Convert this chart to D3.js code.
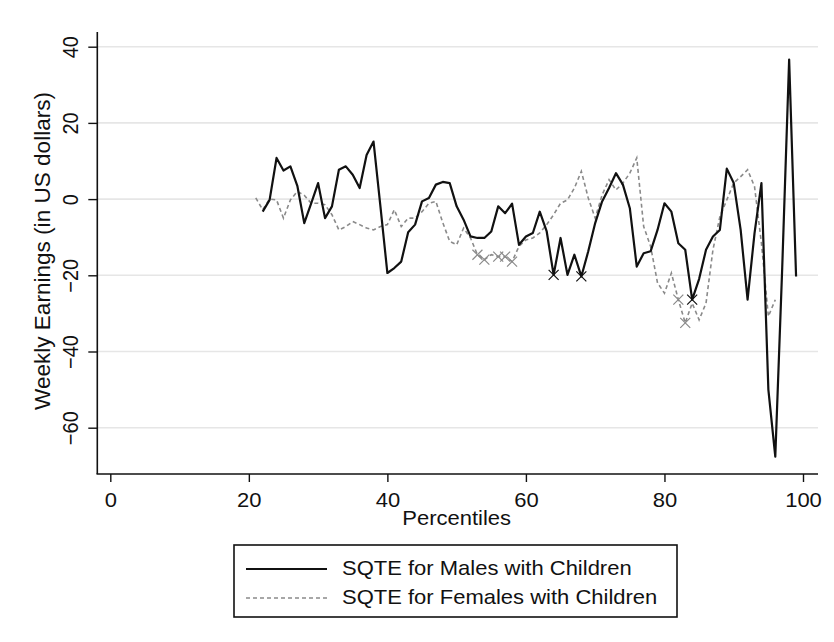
<!DOCTYPE html>
<html>
<head>
<meta charset="utf-8">
<script src="https://cdn.jsdelivr.net/npm/d3@7"></script>
<style>
  html, body { margin: 0; padding: 0; background: #fff; }
  svg { display: block; }
  text { font-family: "Liberation Sans", Arial, sans-serif; fill: #111; }
</style>
</head>
<body>
<svg id="chart" width="834" height="642"></svg>
<script>
// ---------------- data ----------------
const malePct = [22,23,24,25,26,27,28,29,30,31,32,33,34,35,36,37,38,39,40,41,42,43,44,45,46,47,48,49,50,51,52,53,54,55,56,57,58,59,60,61,62,63,64,65,66,67,68,69,70,71,72,73,74,75,76,77,78,79,80,81,82,83,84,85,86,87,88,89,90,91,92,93,94,95,96,97,98,99];
const maleVal = [-3.3,-0.2,10.8,7.5,8.6,3.5,-6.3,-1.1,4.2,-5.0,-1.9,7.7,8.6,6.4,2.9,11.6,15.1,-2.0,-19.4,-18.1,-16.4,-8.7,-6.7,-0.6,0.3,3.8,4.5,4.2,-1.9,-5.4,-9.8,-10.2,-10.2,-8.5,-1.9,-3.7,-1.2,-12.0,-9.8,-8.9,-3.3,-8.5,-19.9,-10.2,-19.9,-14.6,-20.3,-13.7,-6.3,-0.6,2.9,6.8,3.8,-2.4,-17.7,-14.2,-13.7,-8.1,-1.1,-3.3,-11.6,-13.3,-26.4,-21.0,-13.3,-9.8,-8.1,8.0,4.2,-8.1,-26.4,-9.0,4.2,-50.0,-67.6,-18.0,36.6,-20.3];
const femalePct = [21,22,23,24,25,26,27,28,29,30,31,32,33,34,35,36,37,38,39,40,41,42,43,44,45,46,47,48,49,50,51,52,53,54,55,56,57,58,59,60,61,62,63,64,65,66,67,68,69,70,71,72,73,74,75,76,77,78,79,80,81,82,83,84,85,86,87,88,89,90,91,92,93,94,95,96];
const femaleVal = [0.3,-2.8,0.0,-0.2,-5.0,-0.2,2.0,1.0,-1.1,-1.1,-1.5,-4.1,-8.1,-7.2,-5.9,-6.7,-7.6,-8.1,-7.2,-6.7,-2.8,-7.2,-5.0,-5.0,-3.3,-1.1,-0.6,-6.2,-11.1,-12.0,-7.6,-10.2,-14.6,-15.9,-14.6,-15.1,-15.1,-16.4,-12.4,-10.7,-10.2,-8.9,-6.7,-4.1,-1.1,-0.2,2.9,7.3,0.3,-5.0,1.1,5.1,2.4,4.2,6.8,10.8,-7.2,-12.4,-22.0,-24.7,-19.4,-26.4,-32.5,-27.3,-31.7,-27.3,-13.3,-4.6,-0.2,4.2,5.9,7.7,3.3,-11.6,-30.8,-26.4];
// percentiles flagged with an "x" marker
const maleMarked = [64,68,84];
const femaleMarked = [53,54,56,57,58,82,83];

const xTicks = [0,20,40,60,80,100];
const yTicks = [40,20,0,-20,-40,-60];
const seriesNames = ["SQTE for Males with Children","SQTE for Females with Children"];
const xTitle = "Percentiles";
const yTitle = "Weekly Earnings (in US dollars)";

// ---------------- layout ----------------
const svg = d3.select("#chart");
const plotL = 97.3, plotR = 818, plotT = 32, plotB = 474;
const x = d3.scaleLinear().domain([0,100]).range([110.3, 803]);
const y = d3.scaleLinear().domain([-60,40]).range([427.7, 46.7]);
const SX = 1.1; // horizontal text stretch
const fs = 20;

// gridlines
svg.append("g").selectAll("line").data(yTicks).join("line")
  .attr("x1", plotL).attr("x2", plotR)
  .attr("y1", d => y(d)).attr("y2", d => y(d))
  .attr("stroke", "#e6e6e6").attr("stroke-width", 1.6);

// lines
const male = malePct.map((p,i) => ({p, v: maleVal[i]}));
const female = femalePct.map((p,i) => ({p, v: femaleVal[i]}));
const line = d3.line().x(d => x(d.p)).y(d => y(d.v));

svg.append("path").datum(female).attr("d", line)
  .attr("fill","none").attr("stroke","#8a8a8a").attr("stroke-width",1.6)
  .attr("stroke-dasharray","4,3");
svg.append("path").datum(male).attr("d", line)
  .attr("fill","none").attr("stroke","#111").attr("stroke-width",2.2)
  .attr("stroke-linejoin","round");

// markers
function xMark(g, pts, color) {
  const s = 5;
  g.selectAll("path").data(pts).join("path")
    .attr("d", d => `M${x(d.p)-s},${y(d.v)-s}L${x(d.p)+s},${y(d.v)+s}M${x(d.p)-s},${y(d.v)+s}L${x(d.p)+s},${y(d.v)-s}`)
    .attr("stroke", color).attr("stroke-width", 1.2).attr("fill","none");
}
xMark(svg.append("g"), female.filter(d => femaleMarked.includes(d.p)), "#8a8a8a");
xMark(svg.append("g"), male.filter(d => maleMarked.includes(d.p)), "#111");

// axes lines
svg.append("line").attr("x1", plotL).attr("x2", plotL).attr("y1", plotT).attr("y2", plotB)
  .attr("stroke","#111").attr("stroke-width",1.6);
svg.append("line").attr("x1", plotL-0.8).attr("x2", plotR).attr("y1", plotB).attr("y2", plotB)
  .attr("stroke","#111").attr("stroke-width",1.6);

// x axis
const gx = svg.append("g").attr("transform", `translate(0,${plotB})`)
  .call(d3.axisBottom(x).tickValues(xTicks).tickSize(8).tickSizeOuter(0).tickFormat(d3.format("d")));
gx.select(".domain").remove();
gx.selectAll(".tick line").attr("stroke","#111").attr("stroke-width",1.4);
gx.selectAll(".tick text")
  .attr("y", 0).attr("dy", 0)
  .attr("transform", `translate(0,33) scale(${SX},1)`)
  .attr("font-size", fs).attr("fill","#111")
  .style("font-family", '"Liberation Sans", Arial, sans-serif');

// y axis
const gy = svg.append("g").attr("transform", `translate(${plotL},0)`)
  .call(d3.axisLeft(y).tickValues(yTicks).tickSize(9).tickSizeOuter(0).tickFormat(d3.format("d")));
gy.select(".domain").remove();
gy.selectAll(".tick line").attr("stroke","#111").attr("stroke-width",1.4);
gy.selectAll(".tick text")
  .attr("x", 0).attr("y", 0).attr("dy", 0)
  .attr("text-anchor","middle")
  .attr("transform", `translate(-19.3,0) scale(${SX},1) rotate(-90)`)
  .attr("font-size", fs).attr("fill","#111")
  .style("font-family", '"Liberation Sans", Arial, sans-serif');

// titles
svg.append("text").text(xTitle)
  .attr("text-anchor","middle").attr("font-size", fs)
  .attr("transform", `translate(${(x(0)+x(100))/2},525) scale(${SX},1)`);
svg.append("text").text(yTitle)
  .attr("text-anchor","middle").attr("font-size", fs)
  .attr("textLength", 318).attr("lengthAdjust","spacingAndGlyphs")
  .attr("transform", `translate(50.4,251) scale(${SX},1) rotate(-90)`);

// legend
const lg = svg.append("g");
lg.append("rect").attr("x",234).attr("y",545).attr("width",443).attr("height",72)
  .attr("fill","#fff").attr("stroke","#111").attr("stroke-width",1.6);
const legendRows = [
  {name: seriesNames[0], stroke:"#111", w:2, dash:null, by:575},
  {name: seriesNames[1], stroke:"#8a8a8a", w:1.6, dash:"4,3", by:604}
];
legendRows.forEach(r => {
  lg.append("line").attr("x1",246).attr("x2",327).attr("y1",r.by-6).attr("y2",r.by-6)
    .attr("stroke",r.stroke).attr("stroke-width",r.w).attr("stroke-dasharray",r.dash);
  lg.append("text").text(r.name).attr("font-size",fs)
    .attr("transform",`translate(342,${r.by}) scale(${SX},1)`);
});
</script>
</body>
</html>
